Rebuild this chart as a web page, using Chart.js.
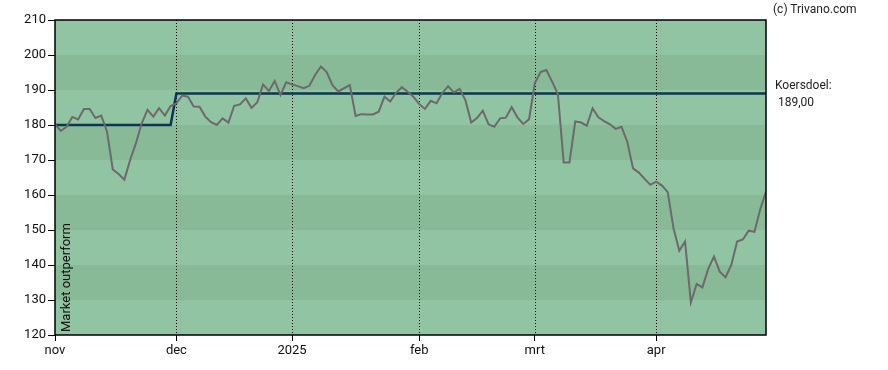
<!DOCTYPE html>
<html>
<head>
<meta charset="utf-8">
<title>Koersdoel</title>
<script src="https://cdn.jsdelivr.net/npm/chart.js@4/dist/chart.umd.min.js"></script>
<style>
    body { margin: 0; background: #fff; font-family: Roboto, sans-serif; }
    #wrap { position: relative; width: 888px; height: 370px; }
    .note { position: absolute; font-size: 12px; color: #222; white-space: nowrap; line-height: 14px; }
    #outperform { left: 59px; top: 332px; font-size: 13px; color: #111; transform: rotate(-90deg); transform-origin: left top; }
</style>
</head>
<body>
<div id="wrap">
    <canvas id="chart" width="888" height="370"></canvas>
    <div class="note" style="left:773px; top:2px;">(c) Trivano.com</div>
    <div class="note" style="left:775px; top:78px;">Koersdoel:</div>
    <div class="note" style="left:778px; top:95px;">189,00</div>
    <div class="note" id="outperform">Market outperform</div>
</div>
<script>
// trading-day index on the x axis, month labels at the first trading day
const monthTicks = [0, 21, 41, 63, 83, 104];
const monthLabels = ['nov', 'dec', '2025', 'feb', 'mrt', 'apr'];
const yTicks = [120, 130, 140, 150, 160, 170, 180, 190, 200, 210];

// closing prices, one per trading day (nov 2024 - apr 2025)
const prices = [
    180.2, 178.3, 179.5, 182.3, 181.6, 184.6, 184.6, 182.0, 182.7, 178.1,
    167.3, 166.0, 164.4, 170.0, 174.8, 180.5, 184.3, 182.4, 184.8, 182.7,
    185.4, 186.2, 188.4, 188.1, 185.3, 185.2, 182.4, 180.8, 180.0, 181.9,
    180.7, 185.5, 185.9, 187.6, 184.9, 186.5, 191.6, 189.7, 192.6, 188.6,
    192.2, 191.6, 191.1, 190.5, 191.2, 194.3, 196.7, 195.1, 191.4, 189.6,
    190.5, 191.4, 182.6, 183.1, 183.0, 183.0, 183.8, 188.1, 186.7, 189.2,
    190.8, 189.5, 188.1, 186.0, 184.6, 186.9, 186.2, 189.1, 191.1, 189.3,
    190.3, 187.1, 180.7, 182.0, 184.1, 180.2, 179.5, 181.9, 182.1, 185.1,
    182.2, 180.3, 181.6, 191.9, 195.1, 195.7, 192.4, 188.8, 169.3, 169.3,
    181.0, 180.7, 179.8, 184.8, 182.2, 181.1, 180.2, 178.9, 179.5, 175.2,
    167.6, 166.4, 164.6, 162.9, 163.8, 162.7, 160.8, 150.5, 144.1, 146.7,
    129.3, 134.6, 133.6, 138.9, 142.4, 138.1, 136.5, 140.0, 146.7, 147.3,
    149.8, 149.5, 155.9, 161.0
];

// price target (koersdoel) steps
const targetIdx = [0, 20, 21, 123];
const targetVal = [180, 180, 189, 189];

const FONT = { family: 'Roboto', size: 13 };

// alternating green bands, dotted month lines and the frame
const backdrop = {
    id: 'backdrop',
    beforeDatasetsDraw(chart) {
        const { ctx, chartArea: a, scales: { x, y } } = chart;
        ctx.save();
        for (let i = 0; i < yTicks.length - 1; i++) {
            const top = y.getPixelForValue(yTicks[i + 1]);
            const bottom = y.getPixelForValue(yTicks[i]);
            const band = (yTicks.length - 2 - i) % 2;
            ctx.fillStyle = band === 0 ? '#91c4a2' : '#89ba98';
            ctx.fillRect(a.left, top, a.right - a.left, bottom - top);
        }
        ctx.strokeStyle = '#000';
        ctx.lineWidth = 1;
        ctx.setLineDash([1, 2]);
        monthTicks.slice(1).forEach(t => {
            const px = Math.round(x.getPixelForValue(t)) + 0.5;
            ctx.beginPath();
            ctx.moveTo(px, a.top);
            ctx.lineTo(px, a.bottom);
            ctx.stroke();
        });
        ctx.restore();
    },
    afterDatasetsDraw(chart) {
        const { ctx, chartArea: a } = chart;
        ctx.save();
        ctx.strokeStyle = '#000';
        ctx.lineWidth = 1.5;
        ctx.strokeRect(a.left, a.top, a.right - a.left, a.bottom - a.top);
        ctx.restore();
    }
};

new Chart(document.getElementById('chart'), {
    type: 'line',
    data: {
        datasets: [
            {
                label: 'Koers',
                data: prices.map((v, i) => ({ x: i, y: v })),
                borderColor: '#6c6a6c',
                borderWidth: 2,
                pointRadius: 0,
                tension: 0,
                order: 0
            },
            {
                label: 'Koersdoel',
                data: targetIdx.map((t, i) => ({ x: t, y: targetVal[i] })),
                borderColor: '#0c3654',
                borderWidth: 2.5,
                pointRadius: 0,
                tension: 0,
                order: 1
            }
        ]
    },
    options: {
        responsive: false,
        animation: false,
        layout: { padding: { left: 0, right: 122, top: 20, bottom: 0 } },
        plugins: {
            legend: { display: false },
            tooltip: { enabled: false }
        },
        scales: {
            x: {
                type: 'linear',
                min: 0,
                max: prices.length - 1,
                afterBuildTicks: scale => {
                    scale.ticks = monthTicks.map(v => ({ value: v }));
                },
                afterFit: scale => { scale.height = 35; },
                ticks: {
                    autoSkip: false,
                    maxRotation: 0,
                    padding: 2,
                    color: '#111',
                    font: FONT,
                    callback: (v, i) => monthLabels[i]
                },
                grid: { drawOnChartArea: false, color: '#000', tickLength: 6 },
                border: { display: false }
            },
            y: {
                min: 120,
                max: 210,
                afterBuildTicks: scale => {
                    scale.ticks = yTicks.map(v => ({ value: v }));
                },
                afterFit: scale => { scale.width = 55; },
                ticks: { padding: 2, color: '#111', font: FONT },
                grid: { drawOnChartArea: false, color: '#000', tickLength: 7 },
                border: { display: false }
            }
        }
    },
    plugins: [backdrop]
});
</script>
</body>
</html>
